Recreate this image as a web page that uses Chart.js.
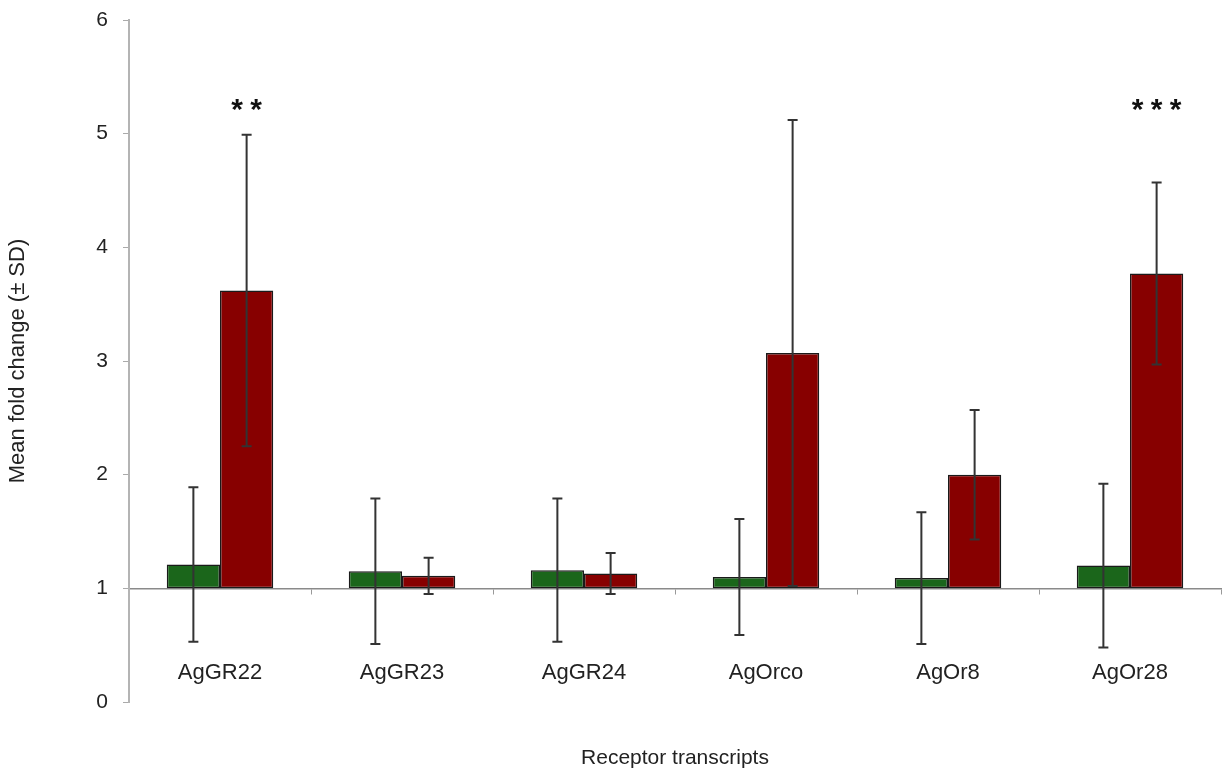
<!DOCTYPE html>
<html>
<head>
<meta charset="utf-8">
<script src="https://cdn.jsdelivr.net/npm/chart.js@4"></script>
<style>
  html, body { margin: 0; padding: 0; background: #fff; }
  #wrap { width: 1222px; height: 776px; }
</style>
</head>
<body>
<div id="wrap"><canvas id="myChart" width="1222" height="776"></canvas></div>
<script>
// data
const categories = ['AgGR22', 'AgGR23', 'AgGR24', 'AgOrco', 'AgOr8', 'AgOr28'];
const greenMeans = [1.21, 1.15, 1.16, 1.10, 1.09, 1.20];
const greenSD    = [0.68, 0.64, 0.63, 0.51, 0.58, 0.72];
const redMeans   = [3.62, 1.11, 1.13, 3.07, 2.00, 3.77];
const redSD      = [1.37, 0.16, 0.18, 2.05, 0.57, 0.80];
const stars      = ['**', '', '', '', '', '***'];
const baseline = 1;
const starLevel = 5.23;

const FONT = 'Arial, "Liberation Sans", sans-serif';
const sds = [greenSD, redSD];
const means = [greenMeans, redMeans];

let ctx = document.getElementById('myChart').getContext('2d');

var extrasPlugin = {
    id: 'extras',
    afterDatasetsDraw: function (chart) {
        let c = chart.ctx;
        let yScale = chart.scales.y;
        c.save();
        // error bars
        c.strokeStyle = '#333';
        c.lineWidth = 2;
        for (let d = 0; d < 2; d++) {
            let meta = chart.getDatasetMeta(d);
            for (let i = 0; i < meta.data.length; i++) {
                let x = meta.data[i].x;
                let top = yScale.getPixelForValue(means[d][i] + sds[d][i]);
                let bot = yScale.getPixelForValue(means[d][i] - sds[d][i]);
                c.beginPath();
                c.moveTo(x, top); c.lineTo(x, bot);
                c.moveTo(x - 5, top); c.lineTo(x + 5, top);
                c.moveTo(x - 5, bot); c.lineTo(x + 5, bot);
                c.stroke();
            }
        }
        // significance stars over the red bars, one by one
        let redMeta = chart.getDatasetMeta(1);
        c.fillStyle = '#111';
        c.font = 'bold 30px ' + FONT;
        c.textAlign = 'center';
        c.textBaseline = 'middle';
        for (let i = 0; i < stars.length; i++) {
            let n = stars[i].length;
            let y = yScale.getPixelForValue(starLevel) + 3;
            for (let k = 0; k < n; k++) {
                c.fillText('*', redMeta.data[i].x + (k - (n - 1) / 2) * 19, y);
            }
        }
        // x axis title
        let area = chart.chartArea;
        c.fillStyle = '#222';
        c.font = '21px ' + FONT;
        c.fillText('Receptor transcripts', (area.left + area.right) / 2, 758);
        c.restore();
    }
};

let data = {
    labels: categories,
    datasets: [{
        label: 'green',
        data: greenMeans.map(v => [baseline, v]),
        backgroundColor: '#1b661b',
        borderColor: '#1a1a1a',
        borderWidth: 1.5,
        borderSkipped: false
    }, {
        label: 'red',
        data: redMeans.map(v => [baseline, v]),
        backgroundColor: '#870000',
        borderColor: '#1a1a1a',
        borderWidth: 1.5,
        borderSkipped: false
    }]
};

let options = {
    responsive: false,
    animation: false,
    layout: { padding: { left: 0, right: 1, top: 20, bottom: 74 } },
    categoryPercentage: 0.585,
    barPercentage: 1.0,
    plugins: {
        legend: { display: false },
        tooltip: { enabled: false }
    },
    scales: {
        x: {
            position: { y: baseline },
            afterFit: function (scale) { scale.paddingLeft = 0; scale.paddingRight = 0; },
            grid: { offset: true, drawOnChartArea: false, drawTicks: true, tickLength: 5, color: '#999' },
            border: { color: '#8a8a8a', width: 1.5 },
            ticks: { color: '#222', font: { family: FONT, size: 22 }, padding: 66 }
        },
        y: {
            min: 0,
            max: 6,
            afterFit: function (scale) {
                scale.width = 129;
                scale.paddingTop = 0;
                scale.paddingBottom = 0;
            },
            ticks: { stepSize: 1, color: '#222', font: { family: FONT, size: 21 }, padding: 15 },
            grid: { drawOnChartArea: false, drawTicks: true, tickLength: 6, color: '#aaa' },
            border: { color: '#b4b4b4', width: 2 },
            title: {
                display: true,
                text: 'Mean fold change (± SD)',
                color: '#222',
                font: { family: FONT, size: 22 },
                padding: { top: 5, bottom: 0 }
            }
        }
    }
};

Chart.register(extrasPlugin);
let myChart = new Chart(ctx, {
    type: 'bar',
    data: data,
    options: options
});
</script>
</body>
</html>
